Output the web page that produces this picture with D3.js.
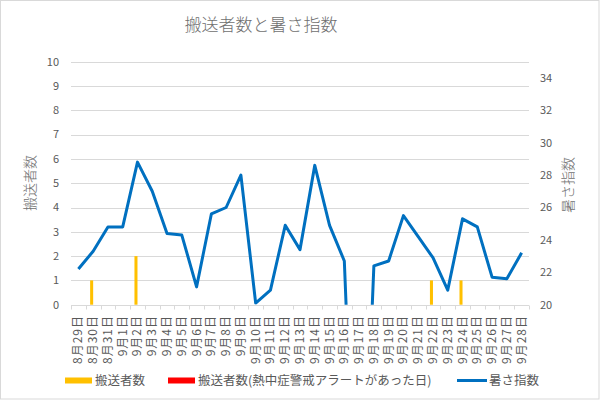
<!DOCTYPE html>
<html lang="ja">
<head>
  <meta charset="UTF-8">
  <title>搬送者数と暑さ指数</title>
  <script src="https://d3js.org/d3.v7.min.js"></script>
  <style>
    body { margin: 0; padding: 0; background: #fff; }
    svg { display: block; font-family: "Noto Sans CJK JP", "Noto Sans", sans-serif; }
    .grid line { stroke: #d9d9d9; stroke-width: 1px; }
    .tick-label { font-size: 11px; fill: #595959; }
    .axis-title { font-size: 14px; fill: #6f6f6f; font-weight: 300; }
    .legend text { font-size: 12.5px; fill: #595959; }
  </style>
</head>
<body>
  <svg width="600" height="400"></svg>
  <script>
    // === データ ===
    const dates = ["8月29日", "8月30日", "8月31日", "9月1日", "9月2日", "9月3日", "9月4日", "9月5日",
      "9月6日", "9月7日", "9月8日", "9月9日", "9月10日", "9月11日", "9月12日", "9月13日", "9月14日",
      "9月15日", "9月16日", "9月17日", "9月18日", "9月19日", "9月20日", "9月21日", "9月22日",
      "9月23日", "9月24日", "9月25日", "9月26日", "9月27日", "9月28日"];
    const transport = [0, 1, 0, 0, 2, 0, 0, 0, 0, 0, 0, 0, 0, 0, 0, 0, 0, 0, 0, 0, 0, 0, 0, 0, 1, 0, 1, 0, 0, 0, 0];
    const transportAlert = [0, 0, 0, 0, 0, 0, 0, 0, 0, 0, 0, 0, 0, 0, 0, 0, 0, 0, 0, 0, 0, 0, 0, 0, 0, 0, 0, 0, 0, 0, 0];
    const wbgt = [22.2, 23.3, 24.8, 24.8, 28.8, 27.0, 24.4, 24.3, 21.1, 25.6, 26.0, 28.0, 20.1, 20.9, 24.9, 23.4,
      28.6, 24.9, 22.7, 0, 22.4, 22.7, 25.5, 24.2, 22.9, 20.9, 25.3, 24.8, 21.7, 21.6, 23.2];
    const leftTicks = [0, 1, 2, 3, 4, 5, 6, 7, 8, 9, 10];
    const rightTicks = [20, 22, 24, 26, 28, 30, 32, 34];
    const legendNames = ["搬送者数", "搬送者数(熱中症警戒アラートがあった日)", "暑さ指数"];

    const svg = d3.select("svg");
    const plotL = 71, plotR = 529, plotT = 61.7, plotB = 304.7;

    // 枠
    svg.append("rect").attr("x", 0.5).attr("y", 0.5).attr("width", 598.5).attr("height", 398.5)
      .attr("fill", "#fff").attr("stroke", "#d9d9d9");

    // === スケール ===
    const x = d3.scaleBand().domain(dates).range([plotL, plotR]).padding(0);
    const yL = d3.scaleLinear().domain([0, 10]).range([plotB, plotT]);
    const yR = d3.scaleLinear().domain([20, 35]).range([plotB, plotT]);
    const groupW = x.bandwidth() * 0.41;
    const xSub = d3.scaleBand().domain(["a", "b"])
      .range([(x.bandwidth() - groupW) / 2, (x.bandwidth() + groupW) / 2]);

    // グリッド
    svg.append("g").attr("class", "grid")
      .selectAll("line").data(leftTicks).enter().append("line")
      .attr("x1", plotL).attr("x2", plotR)
      .attr("y1", d => Math.round(yL(d)) + 0.5).attr("y2", d => Math.round(yL(d)) + 0.5);

    // x軸の目盛り
    const xTicks = dates.map(d => x(d)).concat([plotR]);
    svg.append("g").attr("class", "grid")
      .selectAll("line").data(xTicks).enter().append("line")
      .attr("x1", d => Math.round(d) + 0.5).attr("x2", d => Math.round(d) + 0.5)
      .attr("y1", Math.round(plotB) + 0.5).attr("y2", Math.round(plotB) + 4.5);

    // 左軸ラベル
    svg.append("g").selectAll("text").data(leftTicks).enter().append("text")
      .attr("class", "tick-label")
      .attr("x", 59).attr("y", d => yL(d)).attr("dy", "0.35em")
      .attr("text-anchor", "end").text(d => d);

    // 右軸ラベル
    svg.append("g").selectAll("text").data(rightTicks).enter().append("text")
      .attr("class", "tick-label")
      .attr("x", 540).attr("y", d => yR(d)).attr("dy", "0.35em")
      .attr("text-anchor", "start").text(d => d);

    // x軸ラベル
    svg.append("g").selectAll("text").data(dates).enter().append("text")
      .attr("class", "tick-label")
      .style("font-size", "12px").style("letter-spacing", "1px")
      .attr("transform", d => `translate(${x(d) + x.bandwidth() / 2 + 4},315) rotate(-90)`)
      .attr("text-anchor", "end").text(d => d);

    // === 棒 ===
    svg.append("g").selectAll("rect").data(transport).enter().append("rect")
      .attr("x", (d, i) => x(dates[i]) + xSub("a"))
      .attr("width", xSub.bandwidth())
      .attr("y", d => yL(d)).attr("height", d => yL(0) - yL(d))
      .attr("fill", "#ffc000");
    svg.append("g").selectAll("rect").data(transportAlert).enter().append("rect")
      .attr("x", (d, i) => x(dates[i]) + xSub("b"))
      .attr("width", xSub.bandwidth())
      .attr("y", d => yL(d)).attr("height", d => yL(0) - yL(d))
      .attr("fill", "#ff0000");

    // === 折れ線 ===
    svg.append("clipPath").attr("id", "plot")
      .append("rect").attr("x", plotL).attr("y", plotT - 10).attr("width", plotR - plotL).attr("height", plotB - plotT + 10);
    const line = d3.line()
      .x((d, i) => x(dates[i]) + x.bandwidth() / 2)
      .y(d => yR(d));
    svg.append("path")
      .datum(wbgt)
      .attr("clip-path", "url(#plot)")
      .attr("d", line)
      .attr("fill", "none").attr("stroke", "#0070c0").attr("stroke-width", 3)
      .attr("stroke-linejoin", "round");

    // === タイトル ===
    svg.append("text").attr("x", 261).attr("y", 31).attr("text-anchor", "middle")
      .style("font-size", "17px").style("fill", "#6f6f6f").style("font-weight", 300)
      .text("搬送者数と暑さ指数");
    svg.append("text").attr("class", "axis-title")
      .attr("transform", "translate(35,183) rotate(-90)")
      .attr("text-anchor", "middle").text("搬送者数");
    svg.append("text").attr("class", "axis-title")
      .attr("transform", "translate(573,185) rotate(-90)")
      .attr("text-anchor", "middle").text("暑さ指数");

    // === 凡例 ===
    const legend = svg.append("g").attr("class", "legend");
    const legendItems = [
      { name: legendNames[0], color: "#ffc000", type: "bar", x: 65 },
      { name: legendNames[1], color: "#ff0000", type: "bar", x: 168 },
      { name: legendNames[2], color: "#0070c0", type: "line", x: 457 }
    ];
    legendItems.forEach(it => {
      if (it.type === "bar") {
        legend.append("rect").attr("x", it.x).attr("y", 377.5).attr("width", 27).attr("height", 6).attr("fill", it.color);
      } else {
        legend.append("line").attr("x1", it.x).attr("x2", it.x + 30).attr("y1", 380.5).attr("y2", 380.5)
          .attr("stroke", it.color).attr("stroke-width", 3);
      }
      legend.append("text").attr("x", it.x + (it.type === "bar" ? 30 : 32)).attr("y", 380.5).attr("dy", "0.35em").text(it.name);
    });
  </script>
</body>
</html>
